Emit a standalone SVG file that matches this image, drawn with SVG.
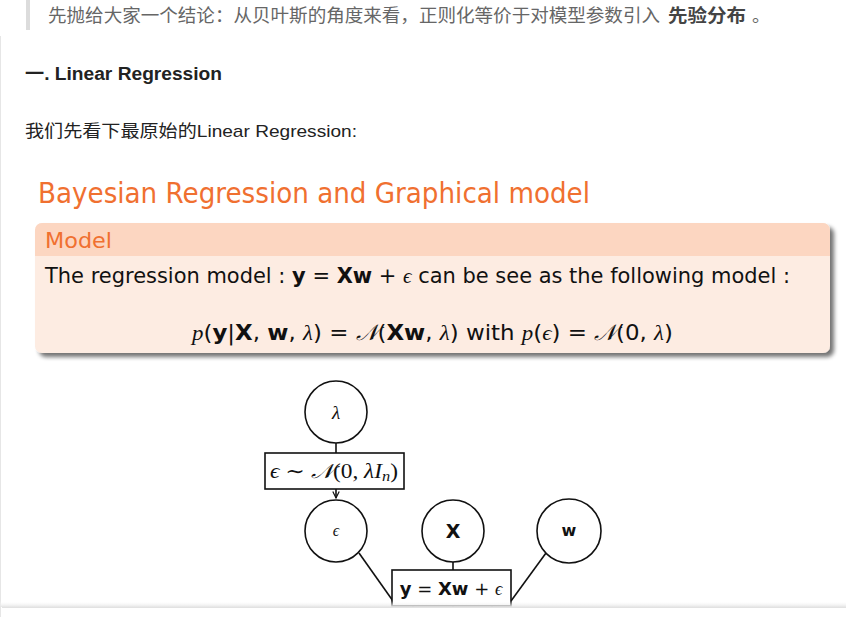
<svg xmlns="http://www.w3.org/2000/svg" width="846" height="617" viewBox="0 0 846 617">
<style>
.cn{font-family:"Liberation Sans","Noto Sans CJK SC",sans-serif;}
.ss{font-family:"DejaVu Sans","Liberation Sans",sans-serif;}
.mi{font-family:"Liberation Serif","DejaVu Serif",serif;font-style:italic;}
.rm{font-family:"Liberation Serif","DejaVu Serif",serif;}
.node{fill:#fff;stroke:#111;stroke-width:1.6;}
.edge{stroke:#111;stroke-width:1.6;fill:none;}
.or{fill:#f07030;}
</style>
<defs>
<filter id="sh" x="-5%" y="-10%" width="112%" height="130%">
<feGaussianBlur in="SourceAlpha" stdDeviation="2"/>
<feOffset dx="4" dy="4"/>
<feComponentTransfer><feFuncA type="linear" slope="0.55"/></feComponentTransfer>
<feMerge><feMergeNode/><feMergeNode in="SourceGraphic"/></feMerge>
</filter>
<clipPath id="blk"><rect x="35" y="223" width="795" height="130" rx="7"/></clipPath>
<linearGradient id="bot" x1="0" y1="0" x2="0" y2="1">
<stop offset="0" stop-color="#fff" stop-opacity="0"/>
<stop offset="1" stop-color="#e4e4e4"/>
</linearGradient>
<marker id="arr" viewBox="0 0 10 10" refX="9" refY="5" markerWidth="5" markerHeight="5" orient="auto">
<path d="M1,1 L9,5 L1,9" fill="none" stroke="#111" stroke-width="1.5"/>
</marker>
</defs>
<rect width="846" height="617" fill="#fff"/>
<line x1="0.5" y1="36" x2="0.5" y2="617" stroke="#e6e6e6"/>
<rect x="26" y="0" width="4" height="30" fill="#dcdcdc"/>
<text class="cn" x="48" y="22" font-size="18" fill="#666"><tspan textLength="612" lengthAdjust="spacingAndGlyphs">先抛给大家一个结论：从贝叶斯的角度来看，正则化等价于对模型参数引入</tspan><tspan x="668" font-weight="bold" fill="#444" textLength="78" lengthAdjust="spacingAndGlyphs">先验分布</tspan><tspan x="752">。</tspan></text>
<text class="cn" x="25" y="80" font-size="18" font-weight="bold" fill="#222" textLength="197" lengthAdjust="spacingAndGlyphs">一. Linear Regression</text>
<text class="cn" x="25" y="137" font-size="17" fill="#222" textLength="332" lengthAdjust="spacingAndGlyphs">我们先看下最原始的Linear Regression:</text>

<text class="ss or" x="38" y="203" font-size="29" textLength="552" lengthAdjust="spacingAndGlyphs">Bayesian Regression and Graphical model</text>

<g id="block" filter="url(#sh)">
<rect x="35" y="223" width="795" height="130" rx="7" fill="#fdece2"/>
<rect x="35" y="223" width="795" height="33" fill="#fcd6c1" clip-path="url(#blk)"/>
</g>
<text class="ss or" x="45" y="248" font-size="22" textLength="67" lengthAdjust="spacingAndGlyphs">Model</text>
<text class="ss" x="45" y="283" font-size="21" fill="#111" textLength="745" lengthAdjust="spacingAndGlyphs">The regression model : <tspan font-weight="bold">y</tspan> = <tspan font-weight="bold">Xw</tspan> + <tspan class="mi">ϵ</tspan> can be see as the following model :</text>
<text class="ss" x="192" y="340" font-size="22" fill="#111" textLength="481" lengthAdjust="spacingAndGlyphs"><tspan class="mi">p</tspan>(<tspan font-weight="bold">y</tspan>|<tspan font-weight="bold">X</tspan>, <tspan font-weight="bold">w</tspan>, <tspan class="mi">λ</tspan>) = <tspan class="mi">𝒩</tspan>(<tspan font-weight="bold">Xw</tspan>, <tspan class="mi">λ</tspan>) with <tspan class="mi">p</tspan>(<tspan class="mi">ϵ</tspan>) = <tspan class="mi">𝒩</tspan>(0, <tspan class="mi">λ</tspan>)</text>

<g id="connectors">
<line class="edge" x1="336" y1="443" x2="336" y2="453"/>
<line class="edge" x1="336" y1="489" x2="336" y2="498" marker-end="url(#arr)"/>
<line class="edge" x1="359" y1="553" x2="393" y2="601"/>
<line class="edge" x1="453" y1="562" x2="453" y2="570"/>
<line class="edge" x1="546" y1="553" x2="511" y2="601"/>
<line class="edge" x1="413" y1="606" x2="413" y2="617"/>
<line class="edge" x1="453" y1="606" x2="453" y2="617"/>
<line class="edge" x1="492" y1="606" x2="492" y2="617"/>
</g>

<g id="n-lambda"><circle class="node" cx="336" cy="412" r="31"/><text class="mi" x="336" y="419" font-size="19" text-anchor="middle" fill="#111">λ</text></g>
<g id="n-noise"><rect class="node" x="265" y="453" width="139" height="36"/><text class="rm" x="334" y="478" font-size="20" text-anchor="middle" fill="#111" textLength="128" lengthAdjust="spacingAndGlyphs"><tspan class="mi">ϵ</tspan> ∼ <tspan class="mi">𝒩</tspan>(0, <tspan class="mi">λI<tspan font-size="14" dy="3">n</tspan></tspan><tspan dy="-3">)</tspan></text></g>
<g id="n-eps"><circle class="node" cx="336" cy="531" r="31"/><text class="mi" x="336" y="536" font-size="16" text-anchor="middle" fill="#111">ϵ</text></g>
<g id="n-X"><circle class="node" cx="453" cy="531" r="31"/><text class="ss" x="453" y="538" font-size="19" font-weight="bold" text-anchor="middle" fill="#111">X</text></g>
<g id="n-w"><circle class="node" cx="569" cy="531" r="32"/><text class="ss" x="569" y="536" font-size="16" font-weight="bold" text-anchor="middle" fill="#111">w</text></g>
<g id="n-y"><rect class="node" x="392" y="570" width="119" height="36"/><text class="ss" x="451" y="595" font-size="18" text-anchor="middle" fill="#111"><tspan font-weight="bold">y</tspan> = <tspan font-weight="bold">Xw</tspan> + <tspan class="mi">ϵ</tspan></text></g>

<rect x="0" y="601" width="846" height="6" fill="url(#bot)"/>
<rect x="0" y="607" width="846" height="10" fill="#fff"/>
<line x1="2" y1="607.5" x2="846" y2="607.5" stroke="#e2e2e2"/>
<line x1="0.5" y1="607" x2="0.5" y2="617" stroke="#e6e6e6"/>
</svg>
